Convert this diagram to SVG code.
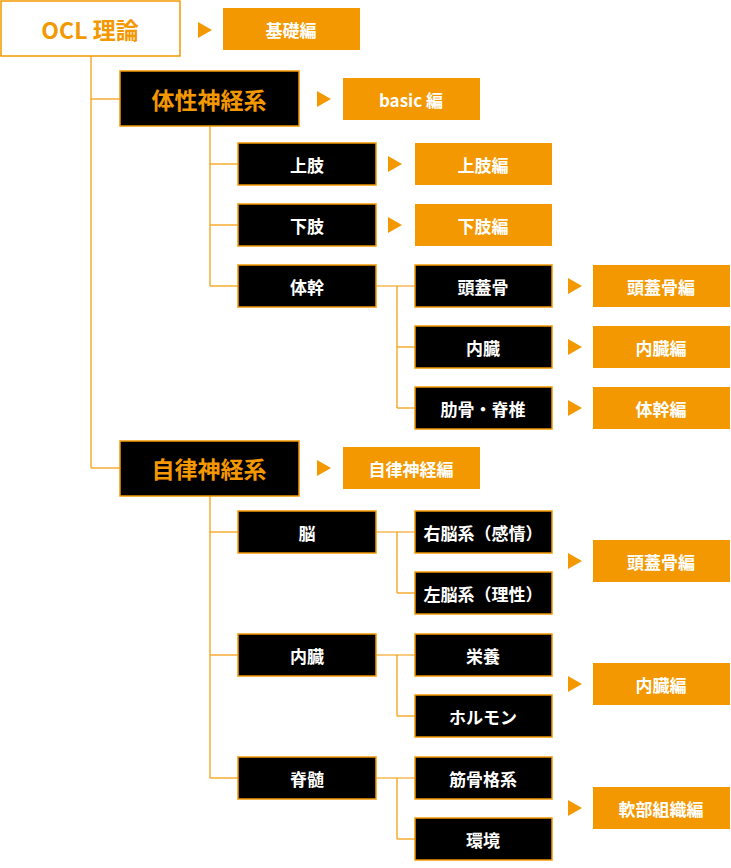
<svg xmlns="http://www.w3.org/2000/svg" width="731" height="868" viewBox="0 0 731 868">
<style>
text{font-family:"Noto Sans CJK JP","Noto Sans",sans-serif;font-weight:bold;text-anchor:middle;dominant-baseline:central}
.k rect{fill:#000;stroke:#f39800;stroke-width:1.5}
.k text{fill:#fff;font-size:17px}
.kb text{fill:#f39800;font-size:23px}
.o rect{fill:#f39800}
.o text{fill:#fff;font-size:17px}
.w rect{fill:#fff;stroke:#f39800;stroke-width:1.5}
.w text{fill:#f39800;font-size:23px}
.c line{stroke:#f39800;stroke-width:1.2}
.t{fill:#f39800}
</style>
<g class="c">
<line x1="91" y1="56" x2="91" y2="468"/><line x1="91" y1="99" x2="120" y2="99"/><line x1="91" y1="468" x2="120" y2="468"/>
<line x1="210" y1="126" x2="210" y2="286"/><line x1="210" y1="164" x2="238" y2="164"/><line x1="210" y1="225" x2="238" y2="225"/><line x1="210" y1="286" x2="238" y2="286"/>
<line x1="376" y1="286" x2="415" y2="286"/><line x1="397" y1="286" x2="397" y2="408"/><line x1="397" y1="347" x2="415" y2="347"/><line x1="397" y1="408" x2="415" y2="408"/>
<line x1="210" y1="496" x2="210" y2="778"/><line x1="210" y1="532" x2="238" y2="532"/><line x1="210" y1="655" x2="238" y2="655"/><line x1="210" y1="778" x2="238" y2="778"/>
<line x1="376" y1="532" x2="415" y2="532"/><line x1="397" y1="532" x2="397" y2="593"/><line x1="397" y1="593" x2="415" y2="593"/>
<line x1="376" y1="655" x2="415" y2="655"/><line x1="397" y1="655" x2="397" y2="716"/><line x1="397" y1="716" x2="415" y2="716"/>
<line x1="376" y1="778" x2="415" y2="778"/><line x1="397" y1="778" x2="397" y2="839"/><line x1="397" y1="839" x2="415" y2="839"/>
<polygon class="t" points="198,22 212,30 198,38"/>
<polygon class="t" points="317,91 331,99 317,107"/>
<polygon class="t" points="388,156 402,164 388,172"/>
<polygon class="t" points="388,217 402,225 388,233"/>
<polygon class="t" points="568,278 582,286 568,294"/>
<polygon class="t" points="568,339 582,347 568,355"/>
<polygon class="t" points="568,400 582,408 568,416"/>
<polygon class="t" points="317,460 331,468 317,476"/>
<polygon class="t" points="568,553 582,561 568,569"/>
<polygon class="t" points="568,676 582,684 568,692"/>
<polygon class="t" points="568,800 582,808 568,816"/>
</g>
<g id="ocl" class="w"><rect x="1" y="1" width="179" height="55"/><text x="90" y="29">OCL 理論</text></g>
<g id="kiso" class="o"><rect x="223" y="8" width="137" height="42"/><text x="291" y="29">基礎編</text></g>
<g id="taisei" class="k kb"><rect x="120" y="71" width="179" height="55"/><text x="209" y="99">体性神経系</text></g>
<g id="basic" class="o"><rect x="343" y="78" width="137" height="42"/><text x="411" y="99">basic 編</text></g>
<g id="joshi" class="k"><rect x="238" y="143" width="138" height="42"/><text x="307" y="164">上肢</text></g>
<g id="joshi-h" class="o"><rect x="415" y="143" width="137" height="42"/><text x="483" y="164">上肢編</text></g>
<g id="kashi" class="k"><rect x="238" y="204" width="138" height="42"/><text x="307" y="225">下肢</text></g>
<g id="kashi-h" class="o"><rect x="415" y="204" width="137" height="42"/><text x="483" y="225">下肢編</text></g>
<g id="taikan" class="k"><rect x="238" y="265" width="138" height="42"/><text x="307" y="286">体幹</text></g>
<g id="tougai" class="k"><rect x="415" y="265" width="137" height="42"/><text x="483" y="286">頭蓋骨</text></g>
<g id="tougai-h" class="o"><rect x="593" y="265" width="137" height="42"/><text x="661" y="286">頭蓋骨編</text></g>
<g id="naizou" class="k"><rect x="415" y="326" width="137" height="42"/><text x="483" y="347">内臓</text></g>
<g id="naizou-h" class="o"><rect x="593" y="326" width="137" height="42"/><text x="661" y="347">内臓編</text></g>
<g id="rokkotsu" class="k"><rect x="415" y="387" width="137" height="42"/><text x="483" y="408">肋骨・脊椎</text></g>
<g id="taikan-h" class="o"><rect x="593" y="387" width="137" height="42"/><text x="661" y="408">体幹編</text></g>
<g id="jiritsu" class="k kb"><rect x="120" y="441" width="179" height="55"/><text x="209" y="468">自律神経系</text></g>
<g id="jiritsu-h" class="o"><rect x="343" y="447" width="137" height="42"/><text x="411" y="468">自律神経編</text></g>
<g id="nou" class="k"><rect x="238" y="511" width="138" height="42"/><text x="307" y="532">脳</text></g>
<g id="unou" class="k"><rect x="415" y="511" width="137" height="42"/><text x="483" y="532">右脳系（感情）</text></g>
<g id="sanou" class="k"><rect x="415" y="572" width="137" height="42"/><text x="483" y="593">左脳系（理性）</text></g>
<g id="tougai-h2" class="o"><rect x="593" y="540" width="137" height="42"/><text x="661" y="561">頭蓋骨編</text></g>
<g id="naizou2" class="k"><rect x="238" y="634" width="138" height="42"/><text x="307" y="655">内臓</text></g>
<g id="eiyou" class="k"><rect x="415" y="634" width="137" height="42"/><text x="483" y="655">栄養</text></g>
<g id="hormone" class="k"><rect x="415" y="695" width="137" height="42"/><text x="483" y="716">ホルモン</text></g>
<g id="naizou-h2" class="o"><rect x="593" y="663" width="137" height="42"/><text x="661" y="684">内臓編</text></g>
<g id="sekizui" class="k"><rect x="238" y="757" width="138" height="42"/><text x="307" y="778">脊髄</text></g>
<g id="kinkotsu" class="k"><rect x="415" y="757" width="137" height="42"/><text x="483" y="778">筋骨格系</text></g>
<g id="kankyou" class="k"><rect x="415" y="818" width="137" height="42"/><text x="483" y="839">環境</text></g>
<g id="nanbu-h" class="o"><rect x="593" y="787" width="137" height="42"/><text x="661" y="808">軟部組織編</text></g>
</svg>
